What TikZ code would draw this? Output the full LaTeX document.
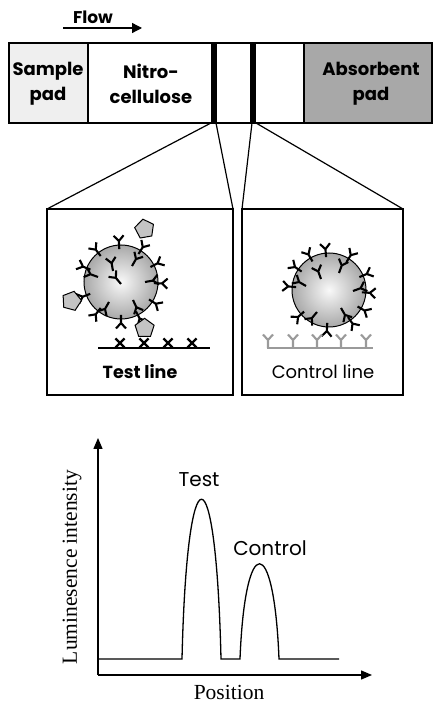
\documentclass[tikz,border=0pt]{standalone}
\usepackage{tikz}
\usepackage{fontspec}
\usetikzlibrary{shapes.geometric,arrows.meta,calc}

\newfontfamily\gothic{Poppins}
\newfontfamily\timesfont{Liberation Serif}

\definecolor{samplegray}{HTML}{EFEFEF}
\definecolor{absorbgray}{HTML}{A8A8A8}
\definecolor{antigengray}{HTML}{C4C4C4}
\definecolor{capturegray}{HTML}{9A9A9A}

\tikzset{
  frame/.style={line width=1.4pt},
  ablines/.style={line width=2.1pt},
  antibody/.pic={\draw[ablines] (0,0) -- (0,8) -- (-5,13.5) (0,8) -- (5,13.5);},
  antigen/.style={regular polygon, regular polygon sides=5, draw, line width=1pt,
    fill=antigengray, minimum size=20pt, inner sep=0pt},
  striplabel/.style={font=\gothic\bfseries\fontsize{18}{25}\selectfont, align=center},
  axislabel/.style={font=\timesfont\fontsize{21.5}{24}\selectfont},
  peaklabel/.style={font=\gothic\fontsize{20}{24}\selectfont},
}

\begin{document}
\begin{tikzpicture}[x=1pt,y=1pt]
    \useasboundingbox (0,0) rectangle (433,705);

    % Flow direction
    \node[font=\gothic\bfseries\fontsize{17}{20}\selectfont] (flow) at (93,688) {Flow};
    \coordinate (flowA) at (63,677);
    \coordinate (flowB) at (142,677);
    \draw[line width=1.3pt,-{Triangle[length=10pt,width=10pt]}] (flowA) -- (flowB);

    % Strip: pads and membrane
    \draw[frame,fill=samplegray] (9,582) rectangle (88,662);
    \draw[frame,fill=white] (88,582) rectangle (304,662);
    \draw[frame,fill=absorbgray] (304,582) rectangle (432,662);
    \fill (211,582) rectangle (217,662);
    \fill (250,582) rectangle (256,662);
    \node[striplabel] (sample) at (48,621) {Sample\\pad};
    \node[striplabel] (nitro) at (151,621) {Nitro-\\cellulose};
    \node[striplabel] (absorb) at (371,621) {Absorbent\\pad};

    % Zoom boxes
    \coordinate (testL) at (211,582);
    \coordinate (testR) at (216,582);
    \coordinate (ctrlL) at (252,582);
    \coordinate (ctrlR) at (256,582);
    \draw[frame] (47,310) rectangle (233,496);
    \draw[frame] (242,310) rectangle (403,496);
    \draw[line width=1.2pt] (testL) -- (47,496) (testR) -- (233,496);
    \draw[line width=1.2pt] (ctrlL) -- (242,496) (ctrlR) -- (403,496);

    % Test line particle
    \coordinate (tp) at (121,423);
    \shade[inner color=gray!5, outer color=gray!68] (tp) circle (37);
    \draw[line width=1pt] (tp) circle (37);
    \foreach \a in {58,93,128,158,201,232,270,297,328,358,27}
      \pic[rotate=\a-90] at ($(tp)+(\a:33)$) {antibody};
    \foreach \dx/\dy/\r in {-8/11/10, 11/16/-30, -23/5/70, 24/0/-80, -12/-20/150, 12/-18/205, 0/-2/40}
      \pic[rotate=\r] at ($(tp)+(\dx,\dy)$) {antibody};
    \node[antigen, rotate=10] (ag1) at ($(tp)+(66:58)$) {};
    \node[antigen, rotate=-15] (ag2) at ($(tp)+(201:53)$) {};
    \node[antigen] (ag3) at ($(tp)+(-63:52)$) {};
    % capture sites
    \draw[line width=1.3pt] (98,357) -- (210,357);
    \foreach \x in {120,144,168,192}
      \draw[line width=2.4pt] (\x-4.5,357.5) -- (\x+4.5,366.5) (\x-4.5,366.5) -- (\x+4.5,357.5);
    \node[font=\gothic\bfseries\fontsize{17.5}{20}\selectfont] (testlbl) at (140,333) {Test line};

    % Control line particle
    \coordinate (cp) at (329,415);
    \shade[inner color=gray!5, outer color=gray!68] (cp) circle (37);
    \draw[line width=1pt] (cp) circle (37);
    \foreach \a in {58,95,120,146,175,221,267,305,330,356,23}
      \pic[rotate=\a-90] at ($(cp)+(\a:33)$) {antibody};
    \foreach \dx/\dy/\r in {-8/11/20, 10/17/-20, -23/4/60, 24/-1/-70, -12/-22/140, 12/-18/210}
      \pic[rotate=\r] at ($(cp)+(\dx,\dy)$) {antibody};
    \draw[line width=1.3pt, capturegray] (267,357) -- (373,357);
    \foreach \x in {268,293,317,341,366}
      \pic[capturegray] at (\x,357) {antibody};
    \node[font=\gothic\fontsize{18}{20}\selectfont] (ctrllbl) at (323,333) {Control line};

    % Luminescence profile
    \coordinate (origin) at (98,30);
    \coordinate (ytip) at (98,267);
    \coordinate (xtip) at (372,30);
    \draw[line width=1.3pt,-{Triangle[length=11pt,width=9pt]}] (origin) -- (ytip);
    \draw[line width=1.3pt,-{Triangle[length=11pt,width=9pt]}] (origin) -- (xtip);
    \draw[line width=1.3pt] (98,46) -- (182,46)
      .. controls (187,259) and (216,259) .. (221,46) -- (240,46)
      .. controls (245,173) and (274,173) .. (279,46) -- (339,46);
    \node[peaklabel] (testpk) at (199,225) {Test};
    \node[peaklabel] (ctrlpk) at (270,157) {Control};
    \node[axislabel, rotate=90] (ylbl) at (72,138) {Luminesence intensity};
    \node[axislabel] (xlbl) at (229,13) {Position};
\end{tikzpicture}
\end{document}
